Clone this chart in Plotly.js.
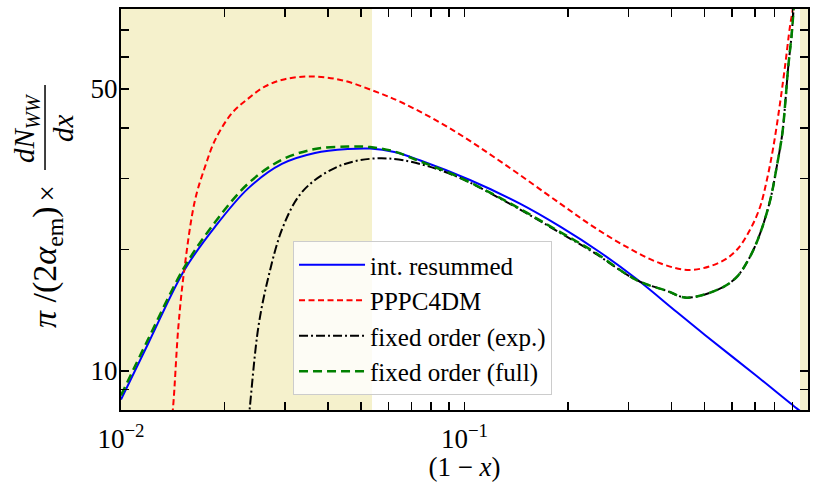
<!DOCTYPE html>
<html>
<head>
<meta charset="utf-8">
<script src="https://cdn.plot.ly/plotly-3.0.1.min.js"></script>
<style>html,body{margin:0;padding:0;background:#fff;}#chart{width:814px;height:482px;}</style>
</head>
<body>
<div id="chart"></div>
<script>
// ---- data (x axis is 1 - x) ----
const resumX = [0.010, 0.012, 0.0153, 0.0188, 0.0235, 0.0294, 0.0367, 0.0458, 0.0531, 0.0625, 0.0741, 0.1037, 0.145, 0.190, 0.248, 0.317, 0.415, 0.50, 0.70, 0.927, 0.96];
const resumY = [8.5, 11.7, 17.8, 22.8, 28.4, 32.6, 34.7, 35.5, 35.6, 34.9, 33.3, 29.75, 26.0, 22.8, 19.7, 16.9, 14.0, 12.3, 9.8, 8.08, 7.9];

const pppcX = [0.0139, 0.01418, 0.01469, 0.01528, 0.01642, 0.01757, 0.0188, 0.0210, 0.0235, 0.0262, 0.0300, 0.0359, 0.0439, 0.0537, 0.0664, 0.0927, 0.1297, 0.190, 0.237, 0.2965, 0.371, 0.4535, 0.554, 0.620, 0.678, 0.725, 0.759, 0.793, 0.829, 0.857, 0.886, 0.902, 0.915];
const pppcY = [7.0, 8.15, 12.88, 17.8, 26.5, 32.1, 37.4, 43.5, 47.4, 50.7, 52.9, 53.7, 52.6, 49.7, 46.1, 39.5, 32.7, 26.0, 22.8, 20.3, 18.5, 17.8, 18.6, 19.95, 22.4, 25.5, 29.75, 36.0, 46.1, 56.8, 71.4, 78.5, 90];

const foExpX = [0.0235, 0.02373, 0.02512, 0.02686, 0.0294, 0.0328, 0.0367, 0.0439, 0.0537, 0.0664, 0.0927, 0.1297, 0.190, 0.237, 0.317, 0.388, 0.4436, 0.554, 0.620, 0.678, 0.725, 0.776, 0.811, 0.842, 0.860, 0.876, 0.897, 0.9075, 0.92];
const foExpY = [7.5, 8.16, 12.88, 17.1, 22.4, 27.0, 29.75, 32.4, 33.6, 33.3, 30.6, 26.5, 22.0, 19.7, 16.8, 15.8, 15.2, 16.0, 17.1, 19.2, 21.9, 26.5, 32.1, 38.8, 47.0, 56.8, 68.7, 78.5, 95];

const foFullX = [0.010, 0.012, 0.0153, 0.0188, 0.0235, 0.0294, 0.0367, 0.0458, 0.0531, 0.0625, 0.0741, 0.0927, 0.1297, 0.190, 0.237, 0.317, 0.388, 0.4436, 0.554, 0.620, 0.678, 0.725, 0.776, 0.811, 0.842, 0.860, 0.876, 0.897, 0.9075, 0.92];
const foFullY = [8.7, 12.0, 18.1, 23.4, 29.2, 33.4, 35.5, 36.0, 35.9, 35.0, 33.1, 30.7, 26.6, 22.1, 19.8, 16.8, 15.8, 15.2, 16.0, 17.1, 19.2, 21.9, 26.5, 32.1, 38.8, 47.0, 56.8, 68.7, 78.5, 95];

const seriesNames = ["int. resummed", "PPPC4DM", "fixed order (exp.)", "fixed order (full)"];

const shadeLow = [0.01, 0.0538];
const shadeHigh = [0.948, 1.0];

const xTickVals = [0.01,0.02,0.03,0.04,0.05,0.06,0.07,0.08,0.09,0.1,0.2,0.3,0.4,0.5,0.6,0.7,0.8,0.9,1];
const xTickText = ["10<sup>−2</sup>","","","","","","","","","10<sup>−1</sup>","","","","","","","","","1"];
const yTickVals = [9,10,20,30,40,50,60,70];
const yTickText = ["","10","","","","50","",""];

// ---- drawing ----
const FONT = "Liberation Serif";
const SM = 1.0;
const traces = [
  {x: resumX, y: resumY, name: seriesNames[0], mode: "lines",
   line: {color: "#0000ff", width: 2, shape: "spline", smoothing: SM}},
  {x: pppcX, y: pppcY, name: seriesNames[1], mode: "lines",
   line: {color: "#ff0000", width: 2, dash: "6px,3.5px", shape: "spline", smoothing: SM}},
  {x: foExpX, y: foExpY, name: seriesNames[2], mode: "lines",
   line: {color: "#000000", width: 2, dash: "9px,3px,2px,3px", shape: "spline", smoothing: SM}},
  {x: foFullX, y: foFullY, name: seriesNames[3], mode: "lines",
   line: {color: "#008000", width: 2.5, dash: "9px,5px", shape: "spline", smoothing: SM}}
];

const axisCommon = {
  type: "log", showgrid: false, zeroline: false,
  showline: true, linecolor: "#000", linewidth: 2, mirror: "allticks",
  ticks: "inside", ticklen: 8, tickwidth: 1.5, tickcolor: "#000",
  tickmode: "array",
  tickfont: {family: FONT, size: 27, color: "#000"}
};

const shade = "rgb(245,241,204)";
const layout = {
  width: 814, height: 482,
  margin: {l: 121, r: 6, t: 9, b: 72},
  paper_bgcolor: "#fff", plot_bgcolor: "#fff",
  font: {family: FONT, color: "#000"},
  showlegend: true,
  xaxis: Object.assign({}, axisCommon, {
    range: [-2, 0], tickvals: xTickVals, ticktext: xTickText, ticklabelstandoff: 4,
    title: {text: "(1 − <i>x</i>)", font: {family: FONT, size: 27, color: "#000"}, standoff: 8}
  }),
  yaxis: Object.assign({}, axisCommon, {
    range: [0.9033, 1.8974], tickvals: yTickVals, ticktext: yTickText, ticklabelstandoff: -4
  }),
  legend: {
    x: 0.2504, y: 0.4214, xanchor: "left", yanchor: "top",
    bgcolor: "rgba(255,255,255,0.8)", bordercolor: "#cccccc", borderwidth: 1,
    itemwidth: 66,
    font: {family: FONT, size: 25, color: "#000"}
  },
  shapes: [
    {type: "rect", xref: "x", yref: "paper", x0: shadeLow[0], x1: shadeLow[1], y0: 0, y1: 1,
     fillcolor: shade, line: {width: 0}, layer: "below"},
    {type: "rect", xref: "x", yref: "paper", x0: shadeHigh[0], x1: shadeHigh[1], y0: 0, y1: 1,
     fillcolor: shade, line: {width: 0}, layer: "below"},
    {type: "line", xref: "paper", yref: "paper", x0: -0.1106, x1: -0.1106, y0: 0.5985, y1: 0.8105,
     line: {color: "#000", width: 1.5}}
  ],
  annotations: [
    {xref: "paper", yref: "paper", x: -0.1077, y: 0.3566, textangle: -90, showarrow: false,
     xanchor: "center", yanchor: "middle",
     text: "<i>π</i> /(2<i>α</i><sub>em</sub>)", font: {family: FONT, size: 34, color: "#000"}},
    {xref: "paper", yref: "paper", x: -0.1077, y: 0.54, textangle: -90, showarrow: false,
     xanchor: "center", yanchor: "middle",
     text: "×", font: {family: FONT, size: 29, color: "#000"}},
    {xref: "paper", yref: "paper", x: -0.1383, y: 0.703, textangle: -90, showarrow: false,
     xanchor: "center", yanchor: "middle",
     text: "<i>dN</i><sub><i>WW</i></sub>", font: {family: FONT, size: 29, color: "#000"}},
    {xref: "paper", yref: "paper", x: -0.0844, y: 0.703, textangle: -90, showarrow: false,
     xanchor: "center", yanchor: "middle",
     text: "<i>dx</i>", font: {family: FONT, size: 29, color: "#000"}}
  ]
};

Plotly.newPlot("chart", traces, layout, {displayModeBar: false, staticPlot: true});
</script>
</body>
</html>
